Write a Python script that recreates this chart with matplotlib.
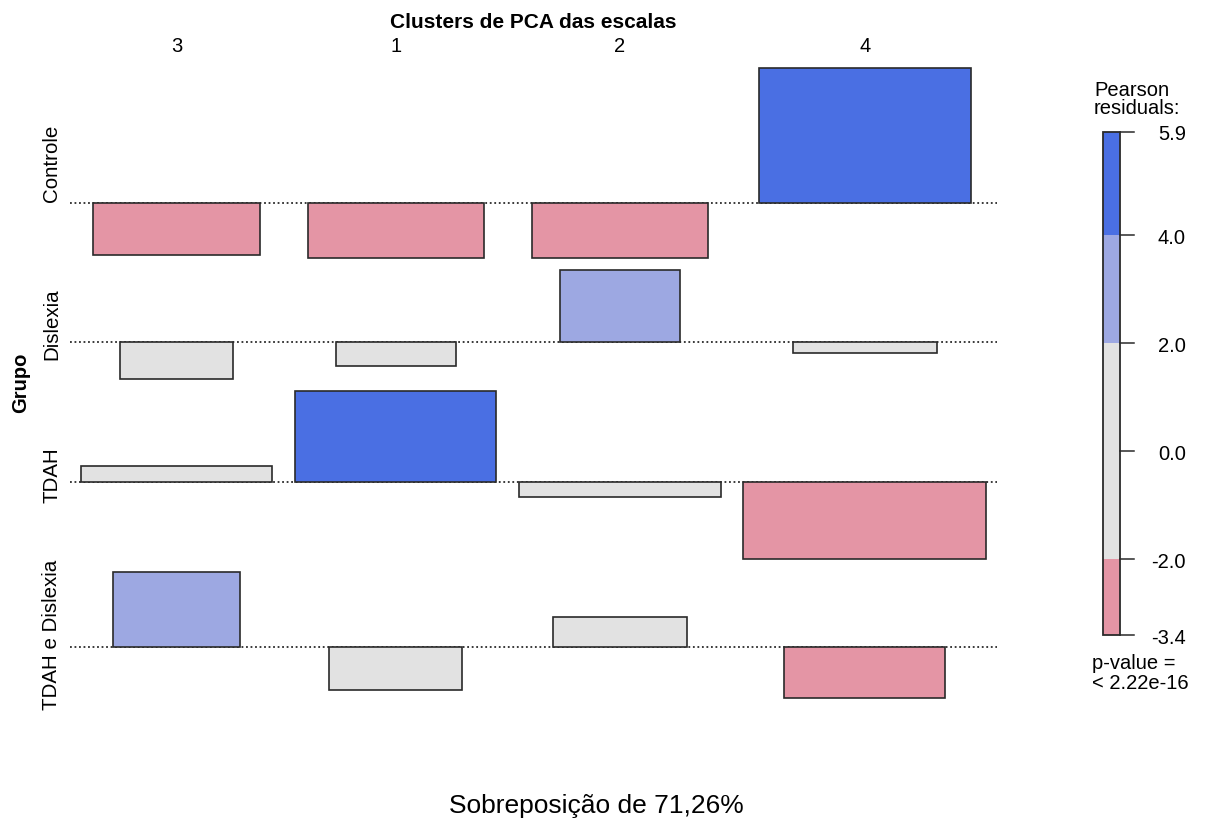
import matplotlib.pyplot as plt
import numpy as np
from matplotlib.patches import Rectangle

plt.rcParams['font.family'] = ['Liberation Sans', 'DejaVu Sans']

groups = ["Controle", "Dislexia", "TDAH", "TDAH e Dislexia"]
clusters = ["3", "1", "2", "4"]

# Pearson residuals (rows = Grupo, columns = cluster)
residuals = np.array([
    [-2.29, -2.40, -2.40, 5.92],
    [-1.60, -1.07, 3.18, -0.47],
    [0.70, 4.01, -0.65, -3.40],
    [3.33, -1.89, 1.33, -2.24],
])

# marginal shares -> bar widths proportional to sqrt(expected)
group_share = np.array([0.2986, 0.1382, 0.3917, 0.1716])
cluster_share = np.array([0.2068, 0.2297, 0.2299, 0.3337])

row_title = "Grupo"
col_title = "Clusters de PCA das escalas"
bottom_label = "Sobreposição de 71,26%"
p_value = "< 2.22e-16"
shade_cuts = [2.0, 4.0]

# hcl shading as in vcd::shading_hcl
POS_COLS = ["#E2E2E2", "#9DA8E2", "#4A6FE3"]
NEG_COLS = ["#E2E2E2", "#E495A5", "#D33F6A"]
EDGE = "#2a2a2a"


def shade(r):
    level = int(np.searchsorted(shade_cuts, abs(r)))
    return POS_COLS[level] if r >= 0 else NEG_COLS[level]


fig = plt.figure(figsize=(12.06, 8.18), dpi=100)
ax = fig.add_axes([0, 0, 1, 1])
ax.set_xlim(0, 1206)
ax.set_ylim(818, 0)
ax.axis('off')

# ---- layout (pixel space) ----
S = 672.0          # px per sqrt(share) unit
UNIT = 22.75       # px per residual unit
X0, GAP_X = 81.0, 22.6
Y0, GAP_Y = 68.3, 12.2

widths = S * np.sqrt(np.outer(group_share, cluster_share))
col_w = widths.max(axis=0)
col_left = X0 + np.concatenate([[0], np.cumsum(col_w)[:-1]]) + np.arange(len(clusters)) * GAP_X
col_center = col_left + col_w / 2

up = np.clip(residuals.max(axis=1), 0, None)
down = np.clip(-residuals.min(axis=1), 0, None)
row_h = (up + down) * UNIT
row_top = Y0 + np.concatenate([[0], np.cumsum(row_h)[:-1]]) + np.arange(len(groups)) * GAP_Y
baseline = row_top + up * UNIT
row_center = row_top + row_h / 2

x_end = col_left[-1] + col_w[-1]

# baselines
for b in baseline:
    ax.plot([X0 - 11, x_end + 11], [b, b], color=EDGE, lw=1.3,
            linestyle=(0, (1, 1.5)), zorder=1)

# bars
for i in range(len(groups)):
    for j in range(len(clusters)):
        r = residuals[i, j]
        w = widths[i, j]
        ax.add_patch(Rectangle((col_center[j] - w / 2, baseline[i]), w, -r * UNIT,
                               facecolor=shade(r), edgecolor=EDGE, lw=1.2, zorder=2))

# labels
ax.text((X0 + x_end) / 2, 27.5, col_title, ha='center', va='baseline',
        fontsize=15, fontweight='bold')
for j, lab in enumerate(clusters):
    ax.text(col_center[j], 52, lab, ha='center', va='baseline', fontsize=14.5)

for i, lab in enumerate(groups):
    ax.text(57, row_center[i], lab, rotation=90, rotation_mode='anchor',
            ha='center', va='baseline', fontsize=14.8)
ax.text(26, (row_top[0] + row_top[-1] + row_h[-1]) / 2, row_title, rotation=90,
        rotation_mode='anchor', ha='center', va='baseline', fontsize=14.5,
        fontweight='bold')

ax.text(596, 813, bottom_label, ha='center', va='baseline', fontsize=19)

# ---- legend ----
LX0, LX1 = 1102.5, 1120.0
LY0, LY1 = 131.7, 635.0
rmax, rmin = residuals.max(), residuals.min()


def leg_y(v):
    return LY0 + (rmax - v) / (rmax - rmin) * (LY1 - LY0)


edges = [rmax] + [c for c in sorted(shade_cuts + [-c for c in shade_cuts], reverse=True)
                  if rmin < c < rmax] + [rmin]
for hi, lo in zip(edges[:-1], edges[1:]):
    mid = (hi + lo) / 2
    ax.add_patch(Rectangle((LX0, leg_y(hi)), LX1 - LX0, leg_y(lo) - leg_y(hi),
                           facecolor=shade(mid), edgecolor='none', zorder=2))
ax.add_patch(Rectangle((LX0, LY0), LX1 - LX0, LY1 - LY0, facecolor='none',
                       edgecolor=EDGE, lw=1.3, zorder=3))

ticks = sorted(set(edges + [0.0]), reverse=True)
for t in ticks:
    y = leg_y(t)
    ax.plot([LX1, LX1 + 14], [y, y], color=EDGE, lw=1.1, zorder=3)
    ax.text(1186, y + 3, f"{t:.1f}", ha='right', va='center', fontsize=14.5)

ax.text(1094, 96, "Pearson", ha='left', va='baseline', fontsize=14.5)
ax.text(1094, 114, "residuals:", ha='left', va='baseline', fontsize=14.5)
ax.text(1092, 669, "p-value =", ha='left', va='baseline', fontsize=14.5)
ax.text(1092, 689, p_value, ha='left', va='baseline', fontsize=14.5)

fig.savefig("out.png", dpi=100)
